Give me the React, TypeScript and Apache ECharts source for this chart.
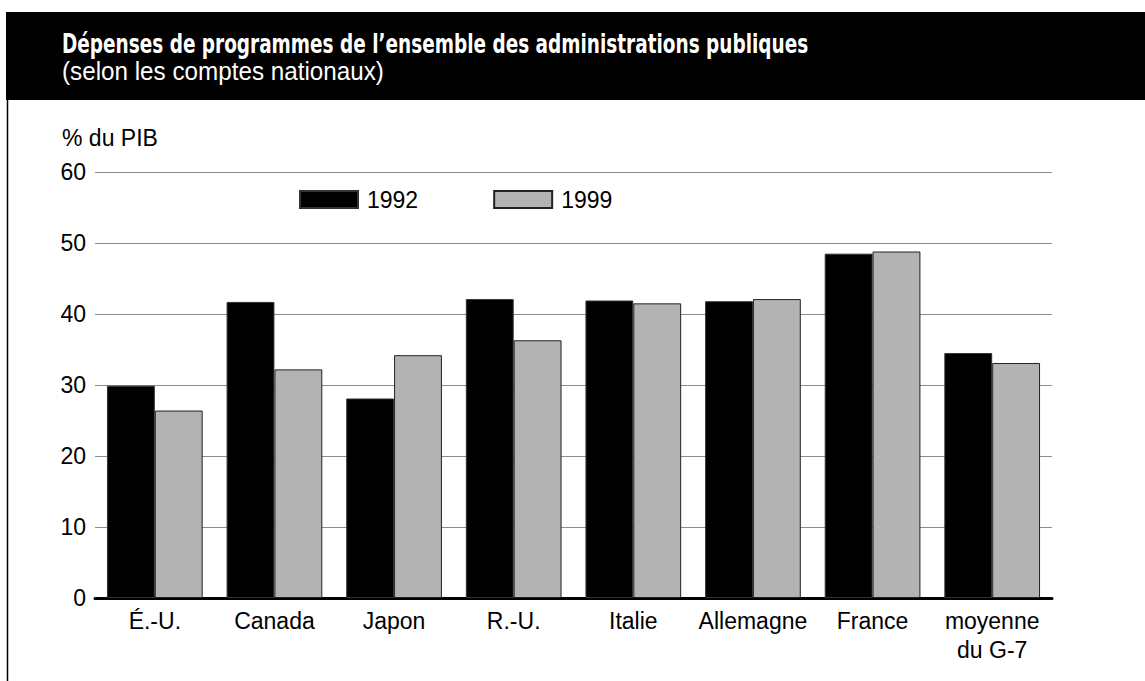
import React, { useEffect, useRef } from "react";
import * as echarts from "echarts";

const categories = ["É.-U.", "Canada", "Japon", "R.-U.", "Italie", "Allemagne", "France", "moyenne\ndu G-7"];
const values1992 = [29.9, 41.7, 28.1, 42.1, 41.9, 41.8, 48.5, 34.5];
const values1999 = [26.4, 32.2, 34.2, 36.3, 41.5, 42.1, 48.8, 33.1];
const seriesNames = ["1992", "1999"];
const titleText = "Dépenses de programmes de l’ensemble des administrations publiques";
const subtitleText = "(selon les comptes nationaux)";
const yAxisTitle = "% du PIB";

const FONT = "'Liberation Sans', Arial, Helvetica, sans-serif";
const NARROW = "'DejaVu Sans Condensed', 'Liberation Sans', sans-serif";

export default function App() {
  const ref = useRef<HTMLDivElement>(null);
  useEffect(() => {
    if (!ref.current) return;
    const chart = echarts.init(ref.current, null, { renderer: "svg" });
    chart.setOption({
      animation: false,
      backgroundColor: "#ffffff",
      graphic: [
        { type: "rect", shape: { x: 6, y: 12, width: 1139, height: 88 }, style: { fill: "#000" }, z: 0 },
        { type: "line", shape: { x1: 7.5, y1: 100, x2: 7.5, y2: 681 }, style: { stroke: "#000", lineWidth: 1.5 } },
        {
          type: "text", x: 62, y: 31, scaleX: 0.79,
          style: { text: titleText, fill: "#fff", font: `bold 26px ${NARROW}` },
        },
        {
          type: "text", x: 62, y: 59, scaleX: 0.97,
          style: { text: subtitleText, fill: "#fff", font: `25px ${FONT}` },
        },
        {
          type: "text", x: 62, y: 126,
          style: { text: yAxisTitle, fill: "#000", font: `23px ${FONT}` },
        },
      ],
      legend: {
        left: 294,
        top: 183,
        icon: "rect",
        itemWidth: 58,
        itemHeight: 17,
        itemGap: 75,
        data: seriesNames,
        textStyle: { fontSize: 23, fontFamily: FONT, color: "#000", padding: [0, 0, 0, 4] },
      },
      grid: { left: 95, right: 93, top: 172, bottom: 83, containLabel: false },
      xAxis: {
        type: "category",
        data: categories,
        axisLine: { lineStyle: { color: "#000", width: 3 } },
        axisTick: { show: false },
        axisLabel: { fontSize: 23, fontFamily: FONT, color: "#000", margin: 8, lineHeight: 29, interval: 0 },
      },
      yAxis: {
        type: "value",
        min: 0,
        max: 60,
        interval: 10,
        axisLine: { show: false },
        axisTick: { show: false },
        axisLabel: { fontSize: 23, fontFamily: FONT, color: "#000", margin: 9 },
        splitLine: { lineStyle: { color: "#8c8c8c", width: 1.2 } },
      },
      series: [
        {
          name: seriesNames[0],
          type: "bar",
          data: values1992,
          barGap: "0%",
          barCategoryGap: "20%",
          itemStyle: { color: "#000", borderColor: "#333", borderWidth: 1 },
        },
        {
          name: seriesNames[1],
          type: "bar",
          data: values1999,
          barGap: "0%",
          barCategoryGap: "20%",
          itemStyle: { color: "#b3b3b3", borderColor: "#222", borderWidth: 1 },
        },
      ],
    });
    return () => chart.dispose();
  }, []);
  return <div ref={ref} style={{ position: "fixed", left: 0, top: 0, width: 1145, height: 681 }} />;
}
